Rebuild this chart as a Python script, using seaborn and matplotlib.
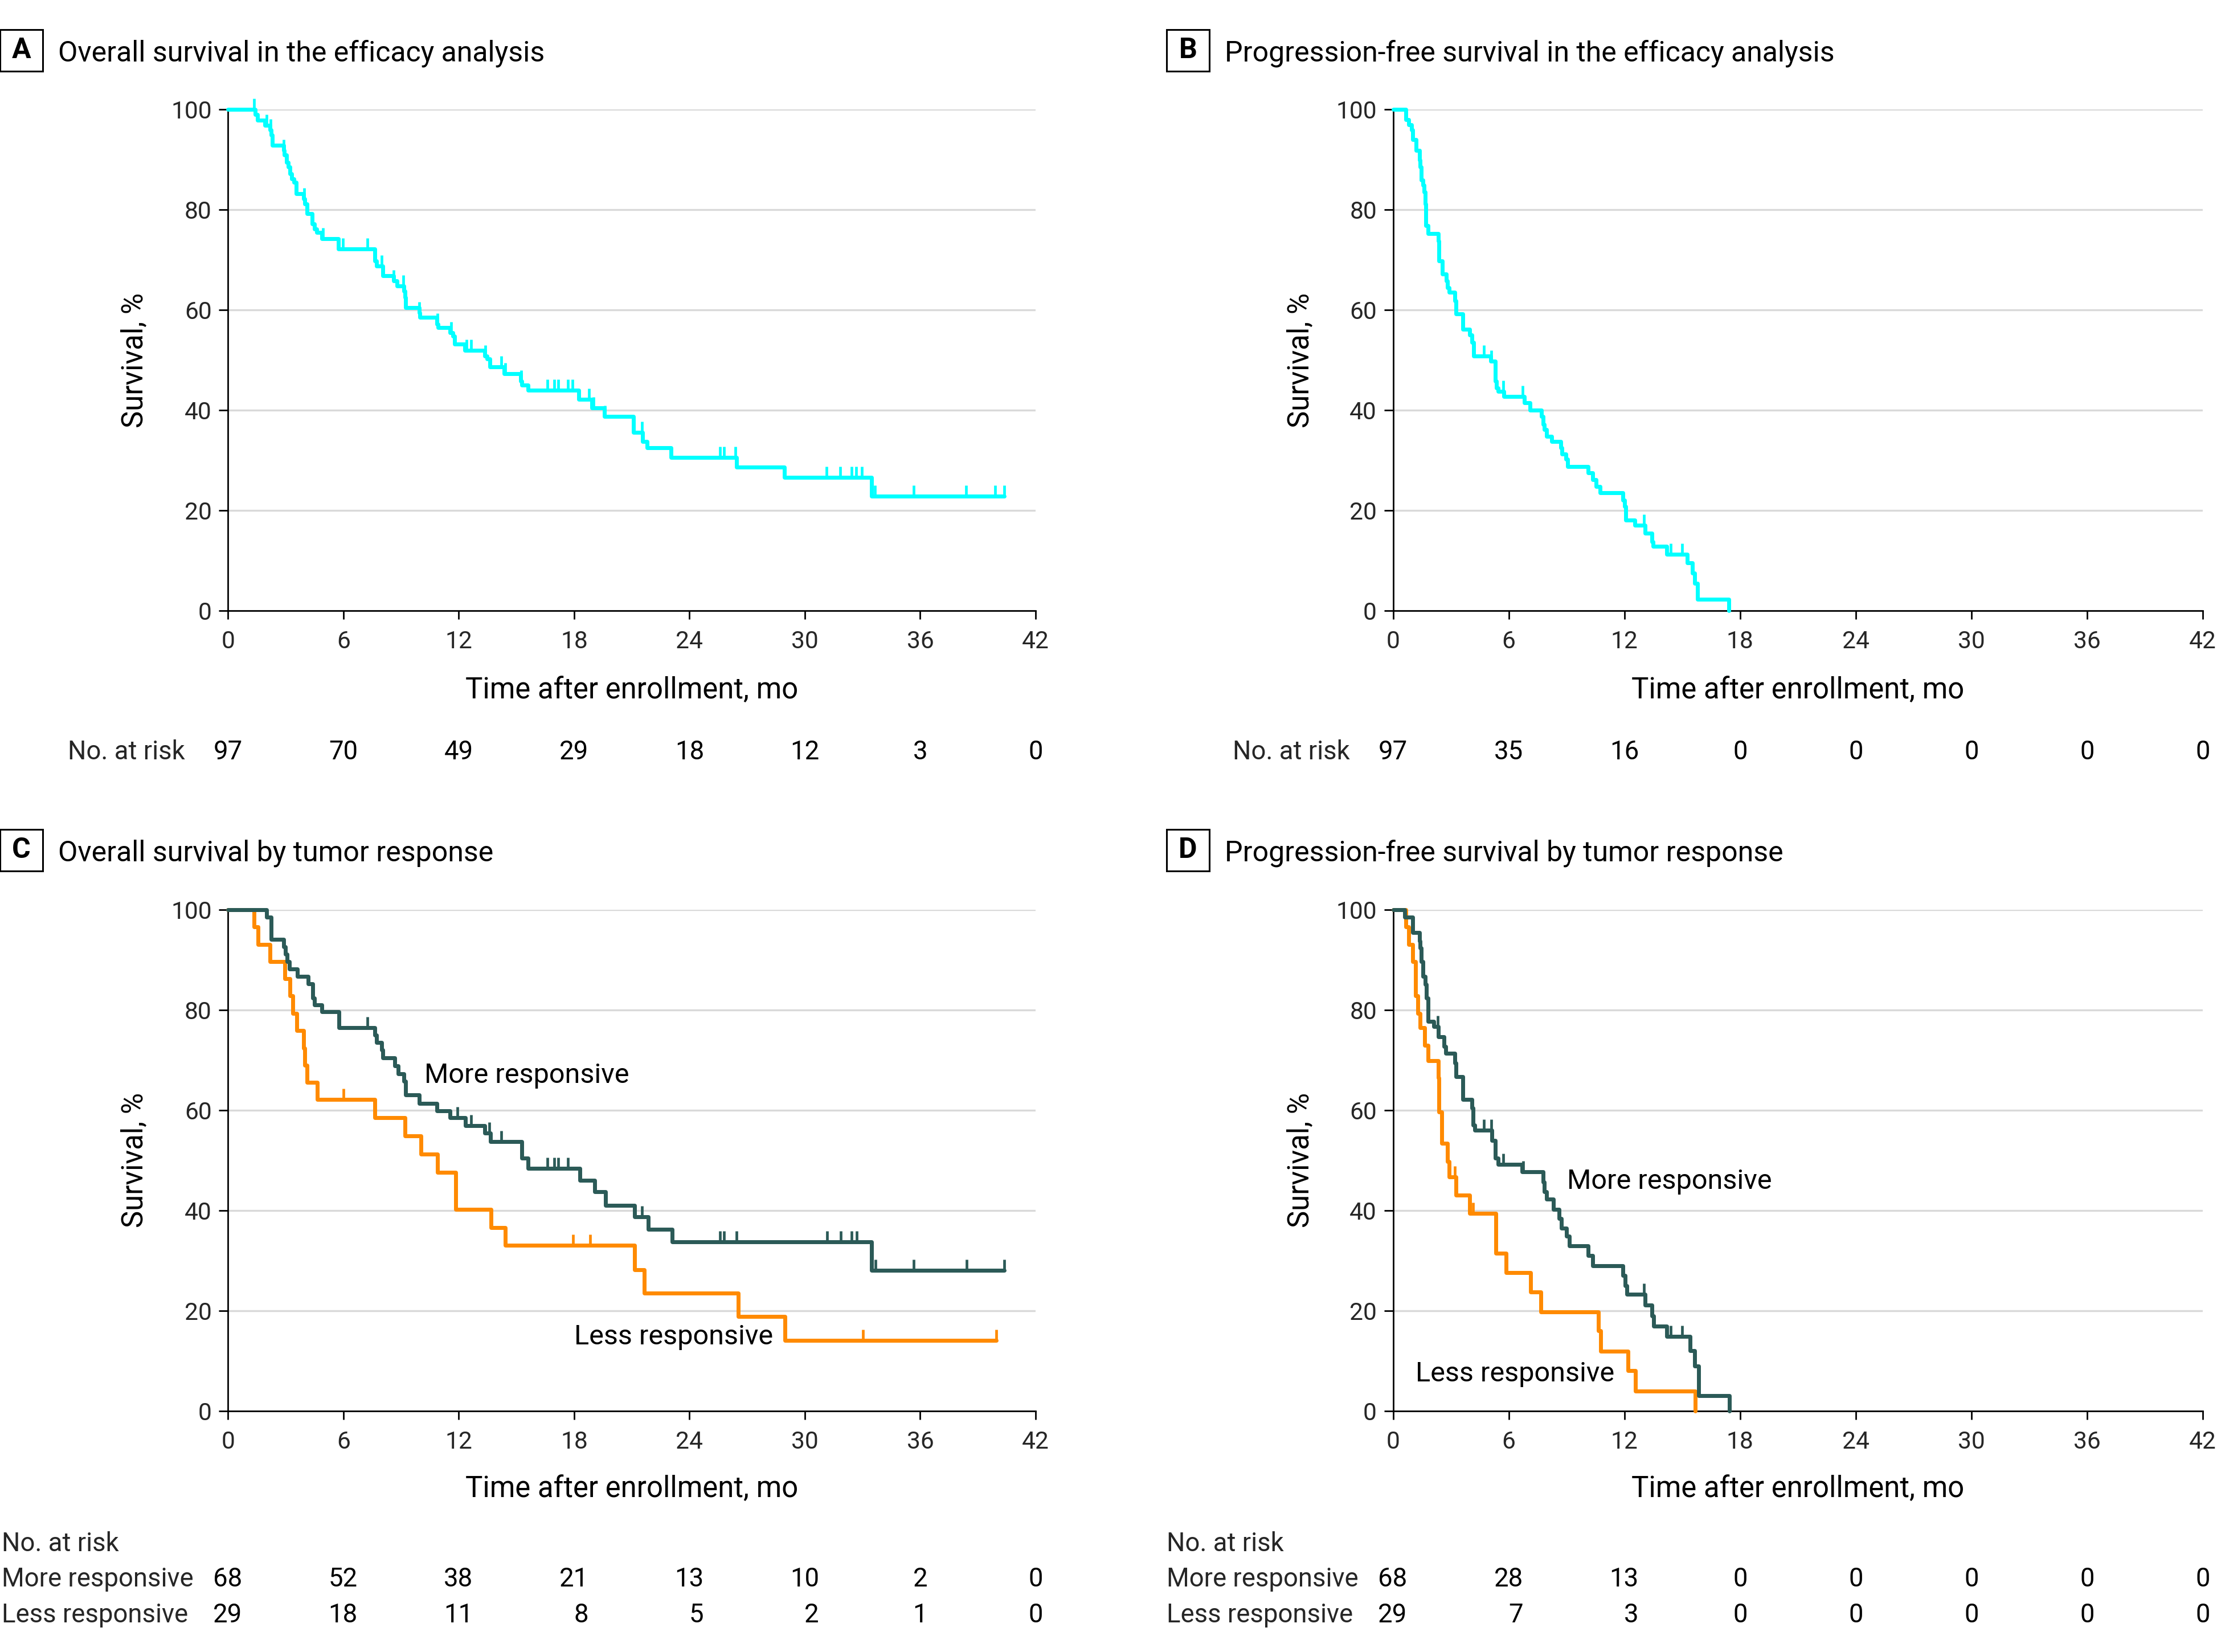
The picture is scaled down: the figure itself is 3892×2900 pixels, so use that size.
import numpy as np
import pandas as pd
import matplotlib
matplotlib.use("Agg")
import matplotlib.pyplot as plt
import seaborn as sns
from matplotlib import font_manager
from matplotlib.path import Path
from matplotlib.patches import Rectangle
from matplotlib.transforms import blended_transform_factory

# ---------------- data ----------------
month_ticks = [0, 6, 12, 18, 24, 30, 36, 42]
surv_ticks = [0, 20, 40, 60, 80, 100]

# Panel A: overall survival, efficacy analysis (step times / survival %)
os_all_t = [0, 1.42, 1.53, 1.91, 2.17, 2.23, 2.29, 2.89, 2.93, 3.05, 3.12, 3.23, 3.31, 3.42, 3.55,
            3.93, 3.99, 4.12, 4.37, 4.50, 4.60, 4.88, 5.73, 7.62, 7.72, 8.04, 8.60, 8.79, 9.13,
            9.19, 9.23, 9.93, 9.98, 10.87, 10.93, 11.55, 11.69, 11.78, 12.31, 13.35, 13.48, 13.62,
            14.37, 15.22, 15.28, 15.60, 18.25, 18.93, 19.57, 21.08, 21.56, 21.80, 23.03, 26.44,
            28.93, 33.48, 40.38]
os_all_s = [100, 99.0, 97.9, 96.9, 95.9, 94.9, 92.9, 91.9, 90.9, 89.5, 88.5, 87.2, 86.2, 85.5, 83.2,
            82.2, 81.2, 79.2, 77.2, 76.2, 75.5, 74.2, 72.2, 69.8, 68.8, 66.8, 65.8, 64.8, 63.8,
            62.5, 60.5, 59.5, 58.5, 57.2, 56.5, 55.5, 54.8, 53.2, 52.0, 50.8, 50.2, 48.6,
            47.3, 45.8, 45.0, 44.0, 42.2, 40.5, 38.8, 35.6, 33.8, 32.5, 30.6, 28.6,
            26.6, 22.8, 22.8]
os_all_cens = [1.36, 1.99, 2.21, 2.89, 3.95, 4.94, 5.77, 5.96, 7.26, 8.00, 8.62, 9.10, 9.95, 10.89,
               11.59, 12.39, 12.65, 13.37, 14.20, 14.43, 15.24, 16.60, 16.98, 17.17, 17.68, 17.91,
               18.78, 19.02, 19.61, 21.10, 21.52, 25.59, 25.81, 26.40, 31.12, 31.84, 32.42, 32.67,
               32.97, 33.64, 35.65, 38.40, 39.90, 40.38]

# Panel B: progression-free survival, efficacy analysis
pfs_all_t = [0, 0.65, 0.80, 0.95, 1.01, 1.21, 1.36, 1.40, 1.47, 1.56, 1.62, 1.66, 1.71, 1.81, 2.34,
             2.37, 2.57, 2.75, 2.82, 2.92, 3.20, 3.25, 3.63, 3.97, 4.08, 4.18, 5.06, 5.29, 5.36,
             5.44, 5.74, 6.80, 7.10, 7.70, 7.78, 7.85, 7.96, 8.23, 8.69, 8.76, 8.96, 9.06, 10.12,
             10.35, 10.54, 10.73, 11.93, 12.01, 12.08, 12.54, 13.07, 13.44, 13.49, 14.20, 15.26,
             15.53, 15.63, 15.79, 17.42]
pfs_all_s = [100, 98.0, 97.0, 95.9, 94.0, 91.9, 89.9, 88.5, 85.9, 84.9, 83.5, 81.2, 76.9, 75.2, 73.8,
             69.8, 67.2, 65.8, 64.5, 63.5, 61.8, 59.2, 56.2, 55.0, 53.5, 50.8, 49.8, 45.8, 44.5,
             43.8, 42.7, 41.5, 40.0, 38.8, 37.2, 36.2, 34.8, 33.8, 32.5, 31.3, 30.2, 28.8, 27.5,
             26.2, 24.8, 23.5, 22.1, 20.8, 18.1, 17.0, 15.5, 13.8, 12.8, 11.3, 9.5,
             7.5, 5.5, 2.3, 0]
pfs_all_cens = [4.71, 5.09, 5.71, 6.72, 13.02, 14.40, 15.00]

# Panel C: overall survival by tumor response
os_more_t = [0, 1.99, 2.23, 2.89, 2.99, 3.08, 3.18, 3.59, 4.16, 4.41, 4.50, 4.88, 5.77, 7.62, 7.72,
             8.00, 8.06, 8.66, 8.85, 9.13, 9.23, 9.93, 10.87, 11.55, 12.35, 13.35, 13.66, 15.28,
             15.60, 18.31, 19.06, 19.63, 21.14, 21.86, 23.09, 33.48, 40.38]
os_more_s = [100, 98.5, 94.1, 92.6, 91.1, 89.7, 88.2, 86.7, 85.2, 82.4, 81.0, 79.6, 76.5, 75.0, 73.5,
             72.0, 70.4, 68.8, 67.3, 65.8, 63.0, 61.4, 59.9, 58.5, 56.9, 55.4, 53.7, 50.4,
             48.4, 46.0, 43.7, 41.0, 38.7, 36.2, 33.7, 28.0, 28.0]
os_more_cens = [7.26, 11.93, 12.65, 13.60, 14.20, 16.60, 16.98, 17.17, 17.68, 21.52, 25.59, 25.81,
                26.44, 31.15, 31.87, 32.42, 32.69, 33.69, 35.65, 38.42, 40.38]
os_less_t = [0, 1.34, 1.57, 2.19, 2.95, 3.23, 3.37, 3.56, 3.93, 3.99, 4.12, 4.65, 7.62, 9.19, 10.04,
             10.89, 11.85, 13.67, 14.43, 21.14, 21.65, 26.53, 28.96, 39.96]
os_less_s = [100, 96.6, 93.1, 89.7, 86.2, 82.8, 79.3, 75.9, 72.4, 69.0, 65.5, 62.1, 58.5, 54.9, 51.2,
             47.6, 40.2, 36.6, 33.0, 28.2, 23.5, 18.8, 14.1, 14.1]
os_less_cens = [5.99, 17.93, 18.82, 33.03, 39.96]

# Panel D: progression-free survival by tumor response
pfs_more_t = [0, 0.60, 1.03, 1.36, 1.40, 1.47, 1.56, 1.66, 1.74, 1.81, 2.11, 2.34, 2.64, 2.72, 3.20,
              3.25, 3.63, 4.08, 4.15, 4.23, 5.14, 5.29, 5.44, 6.69, 7.78, 7.85, 7.96, 8.31, 8.61,
              8.73, 8.99, 9.14, 10.12, 10.35, 11.93, 12.05, 12.13, 13.07, 13.44, 13.52, 14.20,
              15.41, 15.63, 15.86, 17.45]
pfs_more_s = [100, 98.5, 95.4, 93.7, 92.4, 89.7, 86.7, 85.1, 82.4, 77.7, 76.7, 74.7, 72.7, 71.4, 69.4,
              66.7, 62.2, 60.4, 57.0, 56.0, 54.0, 50.4, 49.2, 47.7, 45.7, 43.7, 42.2, 40.2, 38.4,
              36.4, 34.9, 32.9, 31.0, 29.0, 27.0, 25.0, 23.3, 21.1, 19.0, 16.9, 14.9,
              12.0, 8.9, 3.0, 0]
pfs_more_cens = [2.31, 4.71, 5.09, 5.71, 6.75, 13.02, 14.40, 15.00]
pfs_less_t = [0, 0.65, 0.80, 1.03, 1.18, 1.28, 1.40, 1.63, 1.81, 2.34, 2.37, 2.54, 2.82, 2.92, 3.25,
              3.96, 5.33, 5.85, 7.13, 7.66, 10.65, 10.76, 12.19, 12.58, 15.66]
pfs_less_s = [100, 96.6, 93.1, 89.7, 82.8, 79.3, 76.5, 73.0, 69.9, 66.5, 59.7, 53.4, 49.7, 46.7, 43.0,
              39.4, 31.4, 27.6, 23.7, 19.7, 16.0, 11.9, 8.0, 3.9, 0]
pfs_less_cens = [3.22, 4.15]

# Numbers at risk
risk_os_all = [97, 70, 49, 29, 18, 12, 3, 0]
risk_pfs_all = [97, 35, 16, 0, 0, 0, 0, 0]
risk_os_more = [68, 52, 38, 21, 13, 10, 2, 0]
risk_os_less = [29, 18, 11, 8, 5, 2, 1, 0]
risk_pfs_more = [68, 28, 13, 0, 0, 0, 0, 0]
risk_pfs_less = [29, 7, 3, 0, 0, 0, 0, 0]

panel_titles = ["Overall survival in the efficacy analysis",
                "Progression-free survival in the efficacy analysis",
                "Overall survival by tumor response",
                "Progression-free survival by tumor response"]
panel_letters = ["A", "B", "C", "D"]
group_labels = ["More responsive", "Less responsive"]
x_label = "Time after enrollment, mo"
y_label = "Survival, %"
risk_label = "No. at risk"

# ---------------- style ----------------
CYAN = "#00FFFF"
TEAL = "#2B5A57"
ORANGE = "#FF8A00"
GRID = "#D9D9D9"

sns.set_theme(style="white")
available = {f.name for f in font_manager.fontManager.ttflist}
if "Liberation Sans Narrow" in available:
    FAM = ["Liberation Sans Narrow", "DejaVu Sans"]
    FS_TITLE, FS_LABEL, FS_TICK, FS_TEXT, FS_ANN = 20, 20, 17.5, 19, 19.5
else:
    FAM = ["Roboto", "DejaVu Sans"]
    FS_TITLE, FS_LABEL, FS_TICK, FS_TEXT, FS_ANN = 18, 18.3, 15.3, 16.4, 17.5
plt.rcParams["font.family"] = FAM

W, H = 3892, 2900
DPI = 200
fig = plt.figure(figsize=(W / DPI, H / DPI), dpi=DPI)
fig.patch.set_facecolor("white")


def fx(px):
    return px / W


def fy(py):
    return 1 - py / H


def rect(left, top, width, height):
    return [left / W, 1 - (top + height) / H, width / W, height / H]


LW = 2.5
TICK_MARK = Path([(0, 0), (0, 1)], [Path.MOVETO, Path.LINETO])


def draw_curve(ax, t, s, cens, color):
    df = pd.DataFrame({"time": t, "surv": s})
    sns.lineplot(data=df, x="time", y="surv", ax=ax, color=color, lw=LW,
                 drawstyle="steps-post", estimator=None, sort=False,
                 clip_on=False, zorder=3, legend=False)
    tt = np.asarray(t)
    ss = np.asarray(s)
    ct = np.asarray(cens)
    idx = np.clip(np.searchsorted(tt, ct, side="right") - 1, 0, len(ss) - 1)
    cdf = pd.DataFrame({"time": ct, "surv": ss[idx]})
    ax.plot(cdf["time"], cdf["surv"], linestyle="none", marker=TICK_MARK,
            markersize=14, markeredgewidth=1.7, color=color, clip_on=False, zorder=3)


def style_axes(ax):
    ax.set_xlim(0, 42)
    ax.set_ylim(0, 100)
    ax.set_xticks(month_ticks)
    ax.set_yticks(surv_ticks)
    ax.set_xticklabels([str(v) for v in month_ticks])
    ax.set_yticklabels([str(v) for v in surv_ticks])
    for side in ["top", "right"]:
        ax.spines[side].set_visible(False)
    for side in ["left", "bottom"]:
        ax.spines[side].set_color("black")
        ax.spines[side].set_linewidth(1.0)
    ax.tick_params(axis="x", direction="out", length=5.4, width=1.0, color="black",
                   labelsize=FS_TICK, pad=7, bottom=True)
    ax.tick_params(axis="y", direction="out", length=5.8, width=1.0, color="black",
                   labelsize=FS_TICK, pad=4.5, left=True)
    ax.grid(axis="y", color=GRID, lw=1.2)
    ax.grid(axis="x", visible=False)
    ax.set_axisbelow(True)
    ax.set_xlabel("")
    ax.set_ylabel("")
    ax.set_facecolor("white")


def panel_header(letter, title, left, top):
    fig.patches.append(Rectangle((fx(left), fy(top + 73)), 75 / W, 73 / H,
                                 transform=fig.transFigure, fill=False,
                                 edgecolor="black", lw=1.1))
    fig.text(fx(left + 37.5), fy(top + 36.5), letter, ha="center", va="center",
             fontsize=FS_TITLE, fontweight="bold", color="black")
    fig.text(fx(left + 102), fy(top + 55), title, ha="left", va="baseline",
             fontsize=FS_TITLE, color="black")


def axis_labels(ax, ylab_x, xlab_base):
    pos = ax.get_position()
    fig.text((pos.x0 + pos.x1) / 2, fy(xlab_base), x_label, ha="center", va="baseline",
             fontsize=FS_LABEL, color="black")
    fig.text(fx(ylab_x), (pos.y0 + pos.y1) / 2, y_label, ha="center", va="center",
             rotation=90, fontsize=FS_LABEL, color="black")


def risk_row(ax, values, base_y, shifted):
    trans = blended_transform_factory(ax.transData, fig.transFigure)
    for i, (m, v) in enumerate(zip(month_ticks, values)):
        if shifted and shifted[i]:
            ax.text(m + 0.74, fy(base_y), str(v), transform=trans, ha="right",
                    va="baseline", fontsize=FS_TEXT, color="black", clip_on=False)
        else:
            ax.text(m, fy(base_y), str(v), transform=trans, ha="center",
                    va="baseline", fontsize=FS_TEXT, color="black", clip_on=False)


# ---------------- axes ----------------
axA = fig.add_axes(rect(400.4, 192.3, 1417.5, 879.7))
axB = fig.add_axes(rect(2445.5, 192.3, 1421.7, 879.7))
axC = fig.add_axes(rect(400.4, 1597.0, 1417.5, 879.7))
axD = fig.add_axes(rect(2445.5, 1597.0, 1421.7, 879.7))

draw_curve(axA, os_all_t, os_all_s, os_all_cens, CYAN)
draw_curve(axB, pfs_all_t, pfs_all_s, pfs_all_cens, CYAN)
draw_curve(axC, os_less_t, os_less_s, os_less_cens, ORANGE)
draw_curve(axC, os_more_t, os_more_s, os_more_cens, TEAL)
draw_curve(axD, pfs_less_t, pfs_less_s, pfs_less_cens, ORANGE)
draw_curve(axD, pfs_more_t, pfs_more_s, pfs_more_cens, TEAL)

for ax in (axA, axB, axC, axD):
    style_axes(ax)

# in-plot group labels
axC.text(10.21, 66.9, group_labels[0], ha="left", va="center", fontsize=FS_ANN, color="black")
axC.text(17.99, 14.7, group_labels[1], ha="left", va="center", fontsize=FS_ANN, color="black")
axD.text(9.03, 45.8, group_labels[0], ha="left", va="center", fontsize=FS_ANN, color="black")
axD.text(1.18, 7.3, group_labels[1], ha="left", va="center", fontsize=FS_ANN, color="black")

# headers
panel_header(panel_letters[0], panel_titles[0], 0, 52)
panel_header(panel_letters[1], panel_titles[1], 2048, 52)
panel_header(panel_letters[2], panel_titles[2], 0, 1456)
panel_header(panel_letters[3], panel_titles[3], 2048, 1456)

# axis labels
axis_labels(axA, 236, 1226)
axis_labels(axB, 2283, 1226)
axis_labels(axC, 236, 2628)
axis_labels(axD, 2283, 2628)

# risk tables
fig.text(fx(325), fy(1333), risk_label, ha="right", va="baseline", fontsize=FS_TEXT)
risk_row(axA, risk_os_all, 1333, None)
fig.text(fx(2370), fy(1333), risk_label, ha="right", va="baseline", fontsize=FS_TEXT)
risk_row(axB, risk_pfs_all, 1333, None)

shiftC = [max(a, b) >= 10 for a, b in zip(risk_os_more, risk_os_less)]
fig.text(fx(3), fy(2723), risk_label, ha="left", va="baseline", fontsize=FS_TEXT)
fig.text(fx(3), fy(2785), group_labels[0], ha="left", va="baseline", fontsize=FS_TEXT)
fig.text(fx(3), fy(2848), group_labels[1], ha="left", va="baseline", fontsize=FS_TEXT)
risk_row(axC, risk_os_more, 2785, shiftC)
risk_row(axC, risk_os_less, 2848, shiftC)

shiftD = [max(a, b) >= 10 for a, b in zip(risk_pfs_more, risk_pfs_less)]
fig.text(fx(2048), fy(2723), risk_label, ha="left", va="baseline", fontsize=FS_TEXT)
fig.text(fx(2048), fy(2785), group_labels[0], ha="left", va="baseline", fontsize=FS_TEXT)
fig.text(fx(2048), fy(2848), group_labels[1], ha="left", va="baseline", fontsize=FS_TEXT)
risk_row(axD, risk_pfs_more, 2785, shiftD)
risk_row(axD, risk_pfs_less, 2848, shiftD)

fig.savefig("out.png", dpi=DPI, facecolor="white")
